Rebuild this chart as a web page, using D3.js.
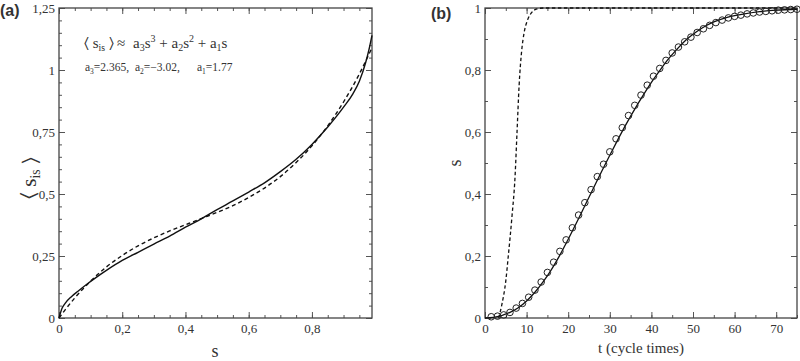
<!DOCTYPE html>
<html>
<head>
<meta charset="utf-8">
<script src="https://cdn.jsdelivr.net/npm/d3@7"></script>
<style>
  body { margin: 0; background: #fff; }
  svg text { fill: #333; }
  svg .serif, svg .serif text { font-family: "Liberation Serif", "DejaVu Serif", serif; }
  svg text.sans { font-family: "Liberation Sans", Arial, sans-serif; font-weight: bold; }
</style>
</head>
<body>
<div id="chart"></div>
<script>
// panel (a): <s_is> vs s
var simS =   [0, 0.01, 0.02, 0.04, 0.06, 0.09, 0.12, 0.15, 0.2, 0.25, 0.3, 0.35, 0.4, 0.45, 0.5, 0.55, 0.6, 0.65, 0.7, 0.75, 0.8, 0.85, 0.9, 0.93, 0.95, 0.97, 0.98, 0.99];
var simSis = [0, 0.04, 0.06, 0.087, 0.108, 0.138, 0.166, 0.192, 0.232, 0.265, 0.298, 0.33, 0.366, 0.40, 0.437, 0.472, 0.508, 0.545, 0.59, 0.64, 0.70, 0.77, 0.85, 0.905, 0.955, 1.03, 1.08, 1.14];
var fitS =   [0, 0.02, 0.05, 0.1, 0.15, 0.2, 0.25, 0.3, 0.35, 0.4, 0.45, 0.5, 0.55, 0.6, 0.65, 0.7, 0.75, 0.8, 0.85, 0.9, 0.95, 0.99];
var fitSis = [0, 0.034, 0.081, 0.149, 0.206, 0.252, 0.291, 0.323, 0.351, 0.376, 0.401, 0.426, 0.453, 0.486, 0.524, 0.570, 0.627, 0.694, 0.775, 0.871, 0.984, 1.09];
var coefs = [["3", "2.365"], ["2", "-3.02"], ["1", "1.77"]];

// panel (b): s vs t
var circT = [1.5, 3, 4.5, 6, 7.5, 9, 10.5, 12, 13.5, 15, 16.5, 18, 19.5, 21, 22.5, 24, 25.5, 27, 28.5, 30, 31.5, 33, 34.5, 36, 37.5, 39, 40.5, 42, 43.5, 45, 46.5, 48, 49.5, 51, 52.5, 54, 55.5, 57, 58.5, 60, 61.5, 63, 64.5, 66, 67.5, 69, 70.5, 72, 73.5, 75];
var circS = [0.004, 0.006, 0.01, 0.018, 0.032, 0.047, 0.067, 0.09, 0.116, 0.147, 0.18, 0.215, 0.252, 0.291, 0.332, 0.372, 0.414, 0.456, 0.496, 0.536, 0.578, 0.614, 0.653, 0.686, 0.719, 0.751, 0.78, 0.805, 0.831, 0.855, 0.874, 0.891, 0.906, 0.921, 0.933, 0.944, 0.953, 0.961, 0.968, 0.973, 0.977, 0.981, 0.984, 0.987, 0.989, 0.991, 0.993, 0.994, 0.995, 0.996];
var solidT = [0, 2, 4, 6, 8, 10, 12, 14, 16, 18, 20, 22, 24, 26, 28, 30, 32, 34, 36, 38, 40, 42, 44, 46, 48, 50, 52, 55, 58, 62, 66, 70, 75];
var solidS = [0, 0.002, 0.008, 0.018, 0.033, 0.055, 0.083, 0.117, 0.157, 0.203, 0.254, 0.307, 0.362, 0.417, 0.472, 0.525, 0.577, 0.627, 0.674, 0.718, 0.760, 0.798, 0.834, 0.865, 0.893, 0.915, 0.934, 0.955, 0.969, 0.98, 0.988, 0.993, 0.996];
var dashT = [3.3, 4, 5, 5.6, 6.5, 7.2, 7.7, 8.2, 8.8, 9.4, 10.2, 11.2, 12.5, 14, 75];
var dashS = [0, 0.04, 0.12, 0.2, 0.33, 0.45, 0.6, 0.75, 0.86, 0.92, 0.96, 0.985, 0.997, 1.0, 1.0];

var aXTicks = [0, 0.2, 0.4, 0.6, 0.8];
var aYTicks = [0, 0.25, 0.5, 0.75, 1, 1.25];
var bXTicks = [0, 10, 20, 30, 40, 50, 60, 70];
var bYTicks = [0, 0.2, 0.4, 0.6, 0.8, 1];

var width = 800, height = 361;
var svg = d3.select("#chart").append("svg")
  .attr("width", width)
  .attr("height", height);

var comma = function(d) { return String(+d.toFixed(3)).replace(".", ","); };

function frame(x, y, majX, minX, majY, minY, fmtX) {
  var g = svg.append("g");
  var x0 = x.range()[0], x1 = x.range()[1], y0 = y.range()[0], y1 = y.range()[1];

  // ticks on all four sides, pointing inward
  function ticks(axis, tr, vals, size) {
    g.append("g").attr("transform", tr)
      .call(axis.tickValues(vals).tickSize(size).tickFormat(""))
      .call(function(s) {
        s.select(".domain").remove();
        s.selectAll("line").attr("stroke", "#555").attr("stroke-width", 1);
      });
  }
  ticks(d3.axisBottom(x), "translate(0," + y0 + ")", majX, -6);
  ticks(d3.axisBottom(x), "translate(0," + y0 + ")", minX, -3);
  ticks(d3.axisTop(x), "translate(0," + y1 + ")", majX, -6);
  ticks(d3.axisTop(x), "translate(0," + y1 + ")", minX, -3);
  ticks(d3.axisLeft(y), "translate(" + x0 + ",0)", majY, -6);
  ticks(d3.axisLeft(y), "translate(" + x0 + ",0)", minY, -3);
  ticks(d3.axisRight(y), "translate(" + x1 + ",0)", majY, -6);
  ticks(d3.axisRight(y), "translate(" + x1 + ",0)", minY, -3);

  // labels
  g.append("g").attr("class", "serif").attr("transform", "translate(0," + y0 + ")")
    .call(d3.axisBottom(x).tickValues(majX).tickSize(0).tickPadding(6).tickFormat(fmtX))
    .call(function(s) {
      s.attr("font-family", null).attr("font-size", null);
      s.select(".domain").remove();
      s.selectAll("text").style("font-size", "13px").attr("fill", "#333");
    });
  g.append("g").attr("class", "serif").attr("transform", "translate(" + x0 + ",0)")
    .call(d3.axisLeft(y).tickValues(majY).tickSize(0).tickPadding(4).tickFormat(comma))
    .call(function(s) {
      s.attr("font-family", null).attr("font-size", null);
      s.select(".domain").remove();
      s.selectAll("text").style("font-size", "13px").attr("fill", "#333");
    });

  g.append("rect")
    .attr("x", x0).attr("y", y1)
    .attr("width", x1 - x0).attr("height", y0 - y1)
    .attr("fill", "none").attr("stroke", "#444").attr("stroke-width", 1.3);
}

function range(a, b, step) {
  var out = [];
  for (var v = a; v <= b + 1e-9; v += step) out.push(+v.toFixed(4));
  return out;
}

// ---- panel (a)
var xa = d3.scaleLinear().domain([0, 0.99]).range([59, 372]);
var ya = d3.scaleLinear().domain([0, 1.25]).range([318, 8]);
frame(xa, ya, aXTicks, range(0, 0.95, 0.05), aYTicks, range(0, 1.25, 0.05), comma);

var lineA = d3.line().x(function(d) { return xa(d[0]); }).y(function(d) { return ya(d[1]); }).curve(d3.curveMonotoneX);
svg.append("path")
  .datum(simS.map(function(s, i) { return [s, simSis[i]]; }))
  .attr("d", lineA).attr("fill", "none").attr("stroke", "#111").attr("stroke-width", 1.4);
svg.append("path")
  .datum(fitS.map(function(s, i) { return [s, fitSis[i]]; }))
  .attr("d", lineA).attr("fill", "none").attr("stroke", "#111").attr("stroke-width", 1.4)
  .attr("stroke-dasharray", "4,3");

// formula annotation
function sisText(g, x, y, size) {
  var t = g.append("text").attr("class", "serif").attr("x", x).attr("y", y).style("font-size", size + "px");
  t.append("tspan").text("\u2329\u00a0s");
  t.append("tspan").attr("dy", size * 0.2).style("font-size", (size * 0.65) + "px").text("is");
  t.append("tspan").attr("dy", -size * 0.2).text("\u00a0\u232A");
  return t;
}
sisText(svg, 84, 48, 15);
svg.append("text").attr("class", "serif").attr("x", 117).attr("y", 48).style("font-size", "15px").text("\u2248");

// a3 s^3 + a2 s^2 + a1 s, each piece: [text, dy, small]
var pieces = [];
coefs.forEach(function(c, i) {
  var back = (i > 0 && coefs[i - 1][0] !== "1") ? 6 : 0;
  pieces.push([(i > 0 ? "\u00a0+\u00a0" : "") + "a", back, false]);
  pieces.push([c[0], 3, true]);
  pieces.push(["s", -3, false]);
  if (c[0] !== "1") pieces.push([c[0], -6, true]);
});
var poly = svg.append("text").attr("class", "serif").attr("x", 133).attr("y", 48).style("font-size", "15px");
pieces.forEach(function(p) {
  var ts = poly.append("tspan").attr("dy", p[1]).text(p[0]);
  if (p[2]) ts.style("font-size", "10px");
});

var coefX = [85, 135, 197];
coefs.forEach(function(c, i) {
  var t = svg.append("text").attr("class", "serif").attr("x", coefX[i]).attr("y", 71).style("font-size", "11.5px");
  t.append("tspan").text("a");
  t.append("tspan").attr("dy", 3).style("font-size", "7.5px").text(c[0]);
  t.append("tspan").attr("dy", -3).text("=" + c[1].replace("-", "\u2212") + (i < 2 ? "," : ""));
});

svg.append("text").attr("class", "serif").attr("x", 215).attr("y", 357).attr("text-anchor", "middle")
  .style("font-size", "18px").text("s");

sisText(svg.append("g").attr("transform", "translate(36,178) rotate(-90)"), 0, 0, 21)
  .attr("text-anchor", "middle");

svg.append("text").attr("class", "sans").attr("x", 0).attr("y", 16)
  .style("font-size", "16px").text("(a)");

// ---- panel (b)
var xb = d3.scaleLinear().domain([0, 75]).range([485, 797]);
var yb = d3.scaleLinear().domain([0, 1]).range([318, 8]);
frame(xb, yb, bXTicks, range(0, 75, 5), bYTicks, range(0, 1, 0.1), function(d) { return d; });

var lineB = d3.line().x(function(d) { return xb(d[0]); }).y(function(d) { return yb(d[1]); }).curve(d3.curveMonotoneX);
svg.append("path")
  .datum(solidT.map(function(t, i) { return [t, solidS[i]]; }))
  .attr("d", lineB).attr("fill", "none").attr("stroke", "#111").attr("stroke-width", 1.3);
svg.append("path")
  .datum(dashT.map(function(t, i) { return [t, dashS[i]]; }))
  .attr("d", lineB).attr("fill", "none").attr("stroke", "#111").attr("stroke-width", 1.3)
  .attr("stroke-dasharray", "3.5,2.5");
svg.append("g").selectAll("circle")
  .data(circT.map(function(t, i) { return [t, circS[i]]; }))
  .enter().append("circle")
  .attr("cx", function(d) { return xb(d[0]); })
  .attr("cy", function(d) { return yb(d[1]); })
  .attr("r", 3.3)
  .attr("fill", "none").attr("stroke", "#222").attr("stroke-width", 1);

svg.append("text").attr("class", "serif").attr("x", 641).attr("y", 353).attr("text-anchor", "middle")
  .style("font-size", "15px").text("t (cycle times)");
svg.append("text").attr("class", "serif").attr("transform", "translate(461,163) rotate(-90)")
  .attr("text-anchor", "middle").style("font-size", "18px").text("s");

svg.append("text").attr("class", "sans").attr("x", 431).attr("y", 19)
  .style("font-size", "16px").text("(b)");
</script>
</body>
</html>
